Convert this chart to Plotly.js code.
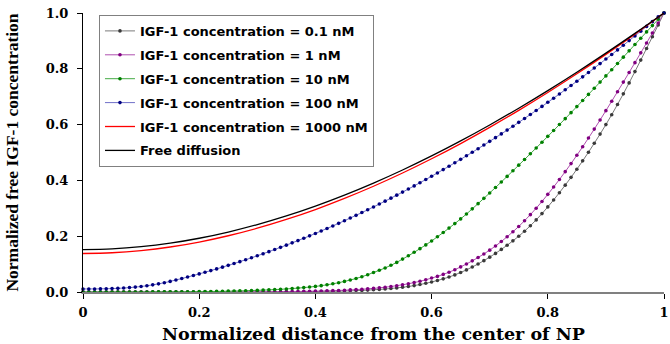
<!DOCTYPE html>
<html>
<head>
<meta charset="utf-8">
<script src="https://cdn.plot.ly/plotly-3.0.1.min.js"></script>
<style>html,body{margin:0;padding:0;background:#fff;}#chart{width:670px;height:344px;}</style>
</head>
<body>
<div id="chart"></div>
<script>
// Normalized distance (fine grid of simulation points, marker series)
var dist = [0,0.01,0.02,0.03,0.04,0.05,0.06,0.07,0.08,0.09,0.10,0.11,0.12,0.13,0.14,0.15,0.16,0.17,0.18,0.19,0.20,0.21,0.22,0.23,0.24,0.25,0.26,0.27,0.28,0.29,0.30,0.31,0.32,0.33,0.34,0.35,0.36,0.37,0.38,0.39,0.40,0.41,0.42,0.43,0.44,0.45,0.46,0.47,0.48,0.49,0.50,0.51,0.52,0.53,0.54,0.55,0.56,0.57,0.58,0.59,0.60,0.61,0.62,0.63,0.64,0.65,0.66,0.67,0.68,0.69,0.70,0.71,0.72,0.73,0.74,0.75,0.76,0.77,0.78,0.79,0.80,0.81,0.82,0.83,0.84,0.85,0.86,0.87,0.88,0.89,0.90,0.91,0.92,0.93,0.94,0.95,0.96,0.97,0.98,0.99,1.00];

var c01nM = [0,0,0,0,0,0,0,0,0,0,0,0,0,0,0,0,0.00001,0.00001,0.00002,0.00002,0.00003,0.00004,0.00005,0.00006,0.00008,0.0001,0.00012,0.00015,0.00019,0.00024,0.0003,0.00036,0.00042,0.0005,0.00059,0.0007,0.00083,0.00098,0.00115,0.00136,0.0016,0.00188,0.0022,0.0026,0.00305,0.0036,0.0042,0.00494,0.0058,0.0068,0.008,0.0093,0.0108,0.0126,0.0147,0.017,0.0198,0.023,0.0268,0.0311,0.036,0.0413,0.0471,0.0537,0.0613,0.07,0.0793,0.0895,0.1005,0.1123,0.125,0.1384,0.1526,0.1676,0.1834,0.2,0.218,0.2375,0.2585,0.281,0.305,0.3299,0.356,0.383,0.4109,0.44,0.47,0.501,0.533,0.566,0.6,0.6355,0.6723,0.7103,0.7495,0.79,0.8312,0.8728,0.9148,0.9572,1];

var c1nM = [0,0,0,0,0,0,0,0,0,0,0,0,0,0,0,0.00001,0.00001,0.00002,0.00002,0.00003,0.00004,0.00005,0.00007,0.00009,0.00012,0.00016,0.00021,0.00028,0.00036,0.00047,0.0006,0.00071,0.00084,0.001,0.00118,0.0014,0.00163,0.0019,0.00221,0.00258,0.003,0.0035,0.00408,0.00476,0.00556,0.0065,0.00745,0.00857,0.00985,0.01133,0.013,0.01496,0.01718,0.01972,0.02264,0.026,0.0296,0.03371,0.03839,0.04372,0.05,0.056,0.063,0.0709,0.0798,0.09,0.1004,0.1116,0.1236,0.1364,0.15,0.165,0.181,0.198,0.216,0.235,0.2555,0.2773,0.3003,0.3245,0.35,0.3762,0.4033,0.4313,0.4602,0.49,0.5205,0.5518,0.5838,0.6165,0.65,0.6838,0.7179,0.7523,0.787,0.822,0.8572,0.8926,0.9282,0.964,1];

var c10nM = [0,0,0,0,0,0.00005,0.00007,0.0001,0.00012,0.00015,0.0002,0.00024,0.0003,0.00036,0.00043,0.0005,0.0006,0.00073,0.00088,0.00107,0.0013,0.00154,0.00182,0.00215,0.00254,0.003,0.00345,0.00396,0.00455,0.00523,0.006,0.00677,0.00764,0.00862,0.00974,0.011,0.0124,0.01398,0.01576,0.01777,0.02,0.02273,0.02584,0.02936,0.03337,0.038,0.0429,0.04849,0.05479,0.06191,0.07,0.07769,0.08619,0.09566,0.1061,0.118,0.1298,0.1423,0.1553,0.1688,0.183,0.1978,0.2132,0.229,0.2452,0.262,0.2795,0.298,0.3167,0.3357,0.355,0.3746,0.3944,0.4143,0.4344,0.4547,0.4751,0.4956,0.5162,0.537,0.5579,0.5789,0.6001,0.6214,0.6429,0.6645,0.6863,0.7082,0.7302,0.7523,0.7745,0.7968,0.8192,0.8417,0.8643,0.887,0.9096,0.9322,0.9548,0.9774,1];

var c100nM = [0.011,0.011,0.011,0.0113,0.0117,0.0123,0.0131,0.0142,0.0157,0.0175,0.0198,0.0224,0.0256,0.0292,0.0333,0.038,0.0431,0.0483,0.0537,0.0592,0.0649,0.0707,0.0767,0.0828,0.0891,0.0955,0.1021,0.1088,0.1157,0.1227,0.1299,0.1372,0.1447,0.1523,0.1601,0.168,0.1761,0.1843,0.1927,0.2012,0.2099,0.2187,0.2277,0.2368,0.2461,0.2555,0.2651,0.2748,0.2847,0.2947,0.3049,0.3152,0.3257,0.3363,0.3471,0.358,0.3691,0.3803,0.3917,0.4032,0.4149,0.4267,0.4387,0.4508,0.4631,0.4755,0.4881,0.5008,0.5137,0.5267,0.5399,0.5532,0.5667,0.5803,0.5941,0.608,0.6221,0.6363,0.6507,0.6652,0.6799,0.6947,0.7097,0.7248,0.7401,0.7555,0.7711,0.7868,0.8027,0.8187,0.8349,0.8512,0.8677,0.8843,0.9011,0.918,0.935,0.952,0.969,0.986,1];

// Smooth curves without markers
var distCoarse = [0,0.05,0.10,0.15,0.20,0.25,0.30,0.35,0.40,0.45,0.50,0.55,0.60,0.65,0.70,0.75,0.80,0.85,0.90,0.95,1.00];
var c1000nM = [0.138,0.1406,0.1485,0.1613,0.1791,0.2016,0.2286,0.2601,0.2956,0.3354,0.379,0.4265,0.4775,0.532,0.59,0.651,0.7151,0.782,0.8518,0.9243,1];
var freeDiff = [0.152,0.1546,0.1624,0.1751,0.1927,0.2149,0.2417,0.2728,0.308,0.3473,0.3905,0.4374,0.4878,0.5416,0.5987,0.6588,0.7219,0.7877,0.8561,0.9269,1];

var names = ['IGF-1 concentration = 0.1 nM','IGF-1 concentration = 1 nM','IGF-1 concentration = 10 nM','IGF-1 concentration = 100 nM','IGF-1 concentration = 1000 nM','Free diffusion'];
var xTickVals = [0, 0.2, 0.4, 0.6, 0.8, 1];
var xTickText = ['0','0.2','0.4','0.6','0.8','1'];
var yTickVals = [0, 0.2, 0.4, 0.6, 0.8, 1];
var yTickText = ['0.0','0.2','0.4','0.6','0.8','1.0'];

function markerTrace(y, name, lineColor, markerColor, g){
  return {x: dist, y: y, name: name, type: 'scatter', mode: 'lines+markers',
    line: {color: lineColor, width: 1, shape: 'spline'},
    marker: {color: markerColor, size: 3.6, symbol: 'circle'},
    cliponaxis: false, legendgroup: g};
}
var traces = [
  markerTrace(c01nM, names[0], '#7a7a7a', '#3a3a3a', 'a'),
  markerTrace(c1nM, names[1], '#b050b0', '#800080', 'b'),
  markerTrace(c10nM, names[2], '#44aa44', '#008000', 'c'),
  markerTrace(c100nM, names[3], '#7070c8', '#000080', 'd'),
  {x: distCoarse, y: c1000nM, name: names[4], type: 'scatter', mode: 'lines',
   line: {color: '#ff0000', width: 1.3, shape: 'spline'}, cliponaxis: false, legendgroup: 'e'},
  {x: distCoarse, y: freeDiff, name: names[5], type: 'scatter', mode: 'lines',
   line: {color: '#000000', width: 1.3, shape: 'spline'}, cliponaxis: false, legendgroup: 'f'}
];

var layout = {
  width: 670, height: 344,
  margin: {l: 83, r: 6, t: 13, b: 52, pad: 0},
  paper_bgcolor: '#ffffff', plot_bgcolor: '#ffffff',
  showlegend: true,
  legend: {x: 0.0275, y: 0.993, xanchor: 'left', yanchor: 'top',
    bordercolor: '#808080', borderwidth: 1, bgcolor: '#ffffff',
    font: {family: 'DejaVu Sans', size: 13, weight: 'bold', color: '#000'},
    traceorder: 'grouped', tracegroupgap: 4, itemwidth: 30},
  xaxis: {range: [0, 1], tickvals: xTickVals, ticktext: xTickText,
    showgrid: false, zeroline: false, showline: true, linecolor: '#808080', linewidth: 1.5,
    ticks: 'outside', ticklen: 5, tickcolor: '#000', tickwidth: 1, ticklabelstandoff: 3,
    ticklabeloverflow: 'allow',
    tickfont: {family: 'DejaVu Serif', size: 13, weight: 'bold', color: '#000'},
    title: {text: 'Normalized distance from the center of NP', standoff: 16,
      font: {family: 'DejaVu Serif', size: 17.5, weight: 'bold', color: '#000'}}},
  yaxis: {range: [0, 1], tickvals: yTickVals, ticktext: yTickText,
    showgrid: false, zeroline: false, showline: true, linecolor: '#000', linewidth: 1,
    ticks: 'outside', ticklen: 5, tickcolor: '#000', tickwidth: 1, ticklabelstandoff: 6,
    tickfont: {family: 'DejaVu Serif', size: 13, weight: 'bold', color: '#000'},
    title: {text: 'Normalized free IGF-1 concentration', standoff: 22,
      font: {family: 'Liberation Serif', size: 17.5, weight: 'bold', color: '#000'}}}
};

Plotly.newPlot('chart', traces, layout, {staticPlot: true, displayModeBar: false});
</script>
</body>
</html>
